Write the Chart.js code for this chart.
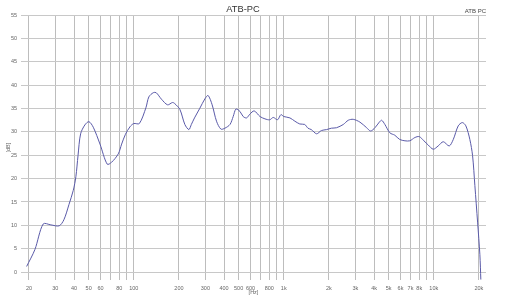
<!DOCTYPE html>
<html>
<head>
<meta charset="utf-8">
<script src="https://cdn.jsdelivr.net/npm/chart.js@4"></script>
<style>
  body { margin: 0; background: #fff; }
  #wrap { width: 506px; height: 300px; position: relative; }
</style>
</head>
<body>
<div id="wrap"><canvas id="respCanvas"></canvas></div>
<script>
// frequency response
const freqs = [19.3, 21.9, 24.9, 28, 31.8, 34.2, 37, 39.5, 41.1, 42.5, 44.2, 47.2, 50.2, 53.7, 59.5, 66.5, 71.1, 78.8, 83, 88, 94.3,
    100, 108.9, 120.5, 126, 134.9, 141, 153, 168, 181, 187, 203, 219, 233, 242, 254, 276, 298, 313, 333, 356, 381, 405, 438, 460, 480,
    510, 536, 565, 594, 635, 694, 749, 806, 851, 909, 957, 1000, 1099, 1186, 1279, 1379, 1450, 1526, 1655, 1782, 1928, 2078, 2249,
    2494, 2691, 2905, 3219, 3568, 3793, 4055, 4335, 4494, 4722, 5100, 5497, 5920, 6425, 6925, 7483, 8000, 8596, 9183, 9920,
    10700, 11570, 12680, 13500, 14560, 15500, 16370, 17400, 18150, 18800, 19600, 20300, 20600];
const spl = [1.2, 4.8, 10.3, 10.1, 9.9, 11.2, 14.5, 17.5, 20.4, 25, 29.6, 31.5, 32.2, 31.0, 27.4, 23.1, 23.5, 25.3, 27.4, 29.5, 31.1,
    31.8, 31.8, 35.2, 37.5, 38.4, 38.4, 37.0, 35.8, 36.3, 36.1, 34.8, 31.6, 30.5, 31.6, 33.0, 35.1, 37.1, 37.8, 35.8, 32.3, 30.6, 30.8, 31.6, 33.3, 34.9,
    34.4, 33.3, 33.0, 33.8, 34.5, 33.3, 32.8, 32.6, 33.1, 32.6, 33.7, 33.3, 33.0, 32.3, 31.7, 31.6, 30.8, 30.5, 29.6, 30.3, 30.5, 30.8, 30.9,
    31.6, 32.5, 32.7, 32.1, 30.9, 30.2, 30.9, 32.1, 32.5, 31.6, 29.8, 29.3, 28.4, 28.1, 28.1, 28.8, 29.0, 28.1, 27.2, 26.3,
    27.0, 27.9, 27.0, 28.4, 31.3, 32.0, 31.3, 28.4, 24.9, 18.5, 10.7, 3.7, -1.6];

// x grid lines and their labels ('' = line without label)
const xTicks = [20, 30, 40, 50, 60, 70, 80, 90, 100, 200, 300, 400, 500, 600, 700, 800, 900, 1000,
    2000, 3000, 4000, 5000, 6000, 7000, 8000, 9000, 10000, 20000];
const xLabels = ['20', '30', '40', '50', '60', '', '80', '', '100', '200', '300', '400', '500', '600', '', '800', '', '1k',
    '2k', '3k', '4k', '5k', '6k', '7k', '8k', '', '10k', '20k'];
const yTicks = [0, 5, 10, 15, 20, 25, 30, 35, 40, 45, 50, 55];

const cornerText = {
    id: 'cornerText',
    afterDraw(chart) {
        const c = chart.ctx;
        c.save();
        c.font = '6px "Liberation Sans", Arial';
        c.fillStyle = '#444';
        c.textAlign = 'right';
        c.textBaseline = 'middle';
        c.fillText('ATB PC', 486, 11);
        c.restore();
    }
};

const ctx = document.getElementById('respCanvas').getContext('2d');
new Chart(ctx, {
    type: 'line',
    data: {
        datasets: [{
            label: 'ATB PC',
            data: freqs.map((f, i) => ({ x: f, y: spl[i] })),
            borderColor: '#5a5aa8',
            borderWidth: 1,
            pointRadius: 0,
            tension: 0.3,
            fill: false
        }]
    },
    options: {
        responsive: true,
        maintainAspectRatio: false,
        animation: false,
        layout: { padding: { left: 0, right: 20, top: 0, bottom: 0 } },
        plugins: {
            legend: { display: false },
            tooltip: { enabled: false },
            title: {
                display: true,
                text: 'ATB-PC',
                color: '#333',
                font: { family: '"Liberation Sans", Arial', size: 9.3, weight: 'normal' },
                padding: { top: 4, bottom: 0 }
            }
        },
        scales: {
            x: {
                type: 'logarithmic',
                min: 17.7,
                max: 22300,
                afterBuildTicks: s => { s.ticks = xTicks.map(v => ({ value: v })); },
                afterFit: s => { s.height = 20; },
                ticks: {
                    autoSkip: false,
                    maxRotation: 0,
                    padding: 5,
                    color: '#666',
                    font: { family: '"Liberation Sans", Arial', size: 5.5 },
                    callback: (v, i) => xLabels[i]
                },
                grid: { color: '#bdbdbd', drawTicks: false },
                border: { display: false },
                title: {
                    display: true,
                    text: '[Hz]',
                    color: '#666',
                    font: { family: '"Liberation Sans", Arial', size: 5.5 },
                    padding: { top: 0, bottom: 4 }
                }
            },
            y: {
                min: -1.7,
                max: 55,
                afterBuildTicks: s => { s.ticks = yTicks.map(v => ({ value: v })); },
                afterFit: s => { s.width = 21; },
                ticks: {
                    padding: 4,
                    color: '#666',
                    font: { family: '"Liberation Sans", Arial', size: 5.5 }
                },
                grid: { color: '#c8c8c8', drawTicks: false },
                border: { display: false },
                title: {
                    display: true,
                    text: '[dB]',
                    color: '#666',
                    font: { family: '"Liberation Sans", Arial', size: 5.5 },
                    padding: { top: 5, bottom: 0 }
                }
            }
        }
    },
    plugins: [cornerText]
});
</script>
</body>
</html>
